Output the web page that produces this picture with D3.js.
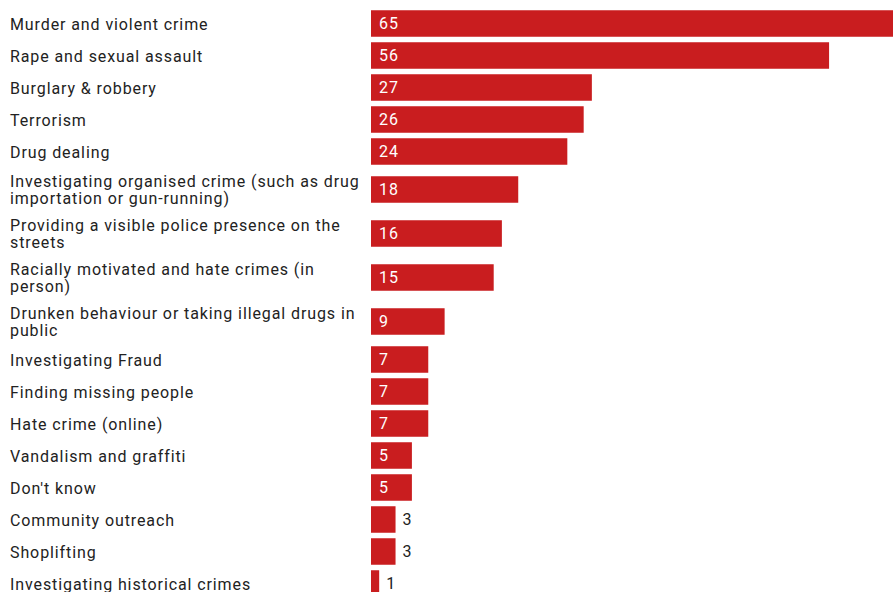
<!DOCTYPE html>
<html>
<head>
<meta charset="utf-8">
<script src="https://cdn.jsdelivr.net/npm/d3@7"></script>
<style>
  html, body { margin: 0; padding: 0; background: #fff; overflow: hidden; }
  svg { display: block; font-family: Roboto, "Noto Sans", sans-serif; }
</style>
</head>
<body>
<svg id="chart" width="893" height="592"></svg>
<script>
// Survey answers: which crimes the police should prioritise (% of respondents)
const categories = [
  "Murder and violent crime",
  "Rape and sexual assault",
  "Burglary & robbery",
  "Terrorism",
  "Drug dealing",
  "Investigating organised crime (such as drug importation or gun-running)",
  "Providing a visible police presence on the streets",
  "Racially motivated and hate crimes (in person)",
  "Drunken behaviour or taking illegal drugs in public",
  "Investigating Fraud",
  "Finding missing people",
  "Hate crime (online)",
  "Vandalism and graffiti",
  "Don't know",
  "Community outreach",
  "Shoplifting",
  "Investigating historical crimes"
];
const values = [65, 56, 27, 26, 24, 18, 16, 15, 9, 7, 7, 7, 5, 5, 3, 3, 1];

const labelX = 10, barX = 371, labelMaxWidth = 362;
const barH = 26.5, lineH = 17.5;
const singleRow = 32, doubleRow = 44;
const fontSize = 16, tracking = 0.9;
const barColor = "#c91d1f", textColor = "#222";

const svg = d3.select("#chart");

// x scale: 56 units reach x≈829, so the longest bar runs past the right edge
const x = d3.scaleLinear().domain([0, 65]).range([barX, barX + 65 * 8.18]);

// Wrap category labels into lines no wider than labelMaxWidth
const measure = svg.append("text")
  .attr("font-size", fontSize)
  .attr("letter-spacing", tracking)
  .attr("visibility", "hidden");
function wrap(str) {
  const words = str.split(" ");
  const lines = [];
  let cur = "";
  for (const w of words) {
    const test = cur ? cur + " " + w : w;
    measure.text(test);
    if (cur && measure.node().getComputedTextLength() > labelMaxWidth) {
      lines.push(cur);
      cur = w;
    } else cur = test;
  }
  if (cur) lines.push(cur);
  return lines;
}
const rows = categories.map((c, i) => ({ label: c, value: values[i], lines: wrap(c) }));
measure.remove();

// Row centres: two-line labels get taller rows
let y0 = 7.5;
rows.forEach(r => {
  const h = r.lines.length > 1 ? doubleRow : singleRow;
  r.cy = y0 + h / 2;
  y0 += h;
});

const g = svg.selectAll("g.row").data(rows).join("g").attr("class", "row");

g.append("rect")
  .attr("x", x(0))
  .attr("y", d => d.cy - barH / 2)
  .attr("width", d => x(d.value) - x(0))
  .attr("height", barH)
  .attr("fill", barColor);

g.append("text")
  .attr("x", labelX)
  .attr("y", d => d.cy - (d.lines.length - 1) * lineH / 2)
  .attr("font-size", fontSize)
  .attr("letter-spacing", tracking)
  .attr("fill", textColor)
  .attr("dominant-baseline", "central")
  .selectAll("tspan")
  .data(d => d.lines)
  .join("tspan")
  .attr("x", labelX)
  .attr("dy", (d, i) => i === 0 ? 0 : lineH)
  .text(d => d);

// Value labels: inside in white when the bar is wide enough, otherwise just past its end
g.append("text")
  .attr("x", d => d.value >= 5 ? x(0) + 8 : x(d.value) + 7)
  .attr("y", d => d.cy)
  .attr("font-size", fontSize)
  .attr("letter-spacing", tracking)
  .attr("dominant-baseline", "central")
  .attr("fill", d => d.value >= 5 ? "#fff" : textColor)
  .text(d => d.value);
</script>
</body>
</html>
